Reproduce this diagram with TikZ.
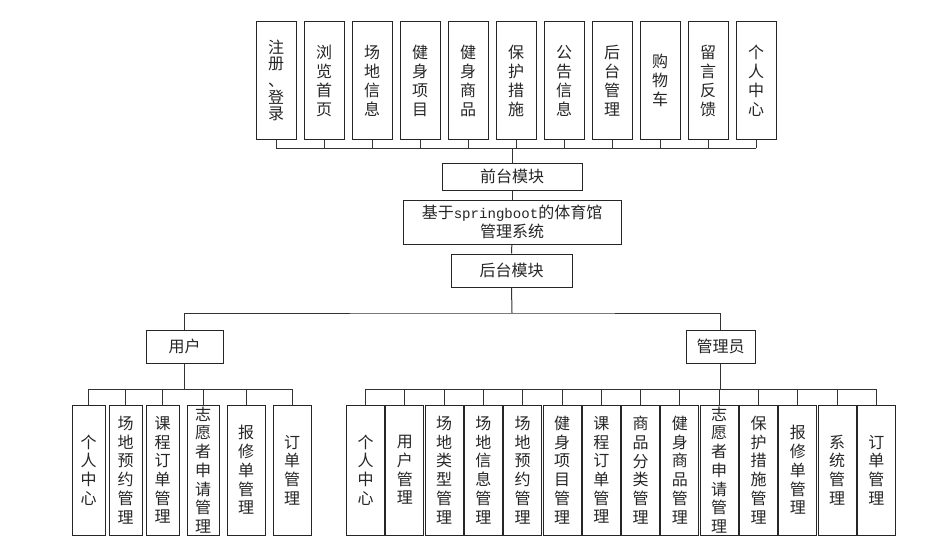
\documentclass[tikz,border=0pt]{standalone}
\usepackage{fontspec}
\setmainfont{Noto Sans CJK SC}
\newfontfamily\monofnt[Scale=0.88]{Liberation Mono}
\tikzset{
  box/.style={draw=black!85, line width=1pt, fill=white, inner sep=0pt, align=center,
    font=\fontsize{16}{19}\selectfont, text=black!85},
  topbox/.style={box, minimum width=40pt, minimum height=117pt},
  botbox/.style={box, minimum width=37pt, minimum height=130pt, font=\fontsize{16}{18.7}\selectfont},
  hbox/.style={box, minimum height=33pt},
  conn/.style={draw=black!80, line width=1pt}
}
\begin{document}
\begin{tikzpicture}[x=1pt,y=-1pt]
\useasboundingbox (0,0) rectangle (936,551);
% top boxes
\node[topbox, font=\fontsize{16}{16.7}\selectfont] (t1) at (276,80.5) {注\\册\\、\\登\\录};
\foreach \i/\t [count=\k from 1] in {t2/{浏\\览\\首\\页},t3/{场\\地\\信\\息},t4/{健\\身\\项\\目},t5/{健\\身\\商\\品},t6/{保\\护\\措\\施},t7/{公\\告\\信\\息},t8/{后\\台\\管\\理},t9/{购\\物\\车},t10/{留\\言\\反\\馈},t11/{个\\人\\中\\心}}
  \node[topbox] (\i) at (276+48*\k,80.5) {\t};
\coordinate (tbL) at (276,148);
\coordinate (tbR) at (756,148);
\foreach \i in {t1,t2,t3,t4,t5,t6,t7,t8,t9,t10,t11}
  \draw[conn] (\i.south) -- (\i.south |- tbL);
\draw[conn] (tbL) -- (tbR);
\node[hbox, minimum width=140pt, minimum height=27pt] (front) at (512,176.5) {前台模块};
\node[box, minimum width=218pt, minimum height=44pt] (sys) at (512,222) {基于{\monofnt springboot}的体育馆\\管理系统};
\node[hbox, minimum width=121pt] (back) at (511.5,270.5) {后台模块};
\draw[conn] (front.north) -- (front.north |- tbL);
\draw[conn] (front) -- (sys);
\draw[conn] (sys) -- (back);
% second level
\node[hbox, minimum width=77pt] (user) at (184.5,346.5) {用户};
\node[hbox, minimum width=69pt] (admin) at (720.5,346.5) {管理员};
\coordinate (mb) at (512,313);
\draw[conn] (back.south) -- (mb);
\draw[conn] (user.north) |- (mb) -| (admin.north);
% user children
\coordinate (ubL) at (88.5,389);
\foreach \i/\x/\w/\t in {u1/88.5/33/{个\\人\\中\\心},u2/125.5/33/{场\\地\\预\\约\\管\\理},u3/162.5/33/{课\\程\\订\\单\\管\\理},u4/203/32/{志\\愿\\者\\申\\请\\管\\理},u5/246/38/{报\\修\\单\\管\\理},u6/292/38/{订\\单\\管\\理}}
  \node[botbox, minimum width=\w pt] (\i) at (\x,470) {\t};
\foreach \i in {u1,u2,u3,u4,u5,u6}
  \draw[conn] (\i.north) -- (\i.north |- ubL);
\draw[conn] (u1.north |- ubL) -- (u6.north |- ubL);
\draw[conn] (user.south) -- (user.south |- ubL);
% admin children
\coordinate (abL) at (366,389);
\foreach \i/\t [count=\k from 0] in {a1/{个\\人\\中\\心},a2/{用\\户\\管\\理},a3/{场\\地\\类\\型\\管\\理},a4/{场\\地\\信\\息\\管\\理},a5/{场\\地\\预\\约\\管\\理},a6/{健\\身\\项\\目\\管\\理},a7/{课\\程\\订\\单\\管\\理},a8/{商\\品\\分\\类\\管\\理},a9/{健\\身\\商\\品\\管\\理},a10/{志\\愿\\者\\申\\请\\管\\理},a11/{保\\护\\措\\施\\管\\理},a12/{报\\修\\单\\管\\理},a13/{系\\统\\管\\理},a14/{订\\单\\管\\理}}
  \node[botbox, minimum width=38pt] (\i) at (365.5+39.3*\k,470) {\t};
\foreach \i in {a1,a2,a3,a4,a5,a6,a7,a8,a9,a10,a11,a12,a13,a14}
  \draw[conn] (\i.north) -- (\i.north |- abL);
\draw[conn] (a1.north |- abL) -- (a14.north |- abL);
\draw[conn] (admin.south) -- (admin.south |- abL);
\end{tikzpicture}
\end{document}
